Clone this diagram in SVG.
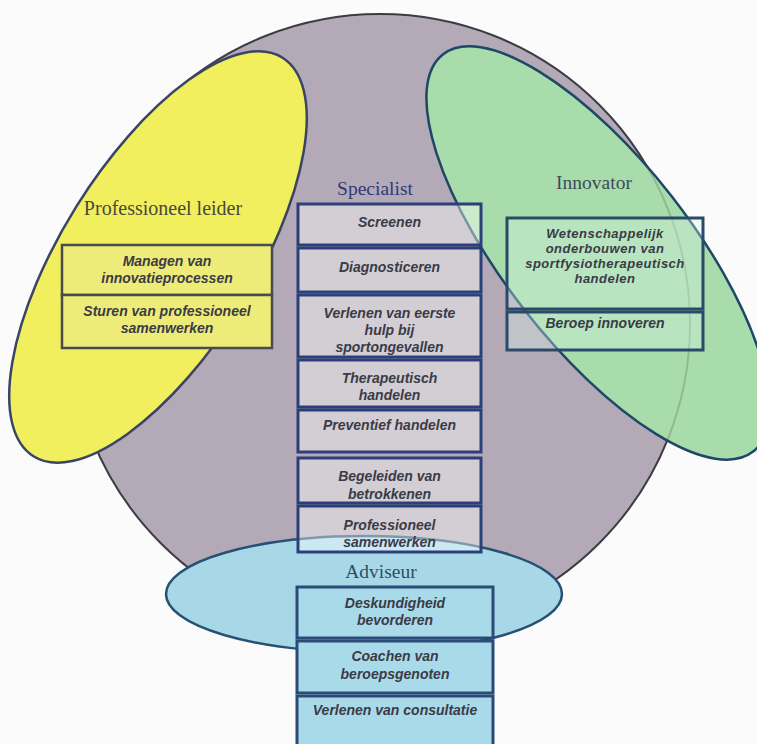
<svg xmlns="http://www.w3.org/2000/svg" width="757" height="744" viewBox="0 0 757 744">
<defs>
<style>
.title{font-family:"Liberation Serif","Times New Roman",serif;font-size:19.5px;text-anchor:middle}
.bt{font-family:"Liberation Sans",Arial,sans-serif;font-size:14px;font-weight:bold;font-style:italic;fill:#3a3b46;text-anchor:middle}
.bs{font-size:13px;letter-spacing:0.5px}
.sbox{fill:#ffffff;fill-opacity:0.42;stroke:#2b3f78;stroke-width:3}
.ybox{fill:#eeec78;stroke:#4a4a52;stroke-width:2.5}
.gbox{fill:#d8f4ea;fill-opacity:0.35;stroke:#2a4a6a;stroke-width:3}
.abox{fill:#a9dae9;stroke:#2a4a78;stroke-width:3}
</style>
<clipPath id="gclip"><ellipse cx="598" cy="253" rx="93" ry="252" transform="rotate(-38 598 253)"/></clipPath>
</defs>
<rect x="0" y="0" width="757" height="744" fill="#fbfbfb"/>
<g id="shapes">
<circle id="circle-specialist" cx="380" cy="324" r="310" fill="#b4a9b6" stroke="#3c3c44" stroke-width="2"/>
<ellipse id="ellipse-leider" cx="158" cy="257" rx="96" ry="235" transform="rotate(32 158 257)" fill="#f2ef5e" stroke="#3a4565" stroke-width="2.5"/>
<ellipse id="ellipse-innovator" cx="598" cy="253" rx="93" ry="252" transform="rotate(-38 598 253)" fill="#a8dcaa" stroke="#1f4766" stroke-width="2.5"/>
<circle cx="380" cy="324" r="310" fill="none" stroke="#3c3c44" stroke-width="2" stroke-opacity="0.22" clip-path="url(#gclip)"/>
<ellipse id="ellipse-adviseur" cx="364" cy="594" rx="198" ry="58" fill="#a8d8e8" stroke="#275075" stroke-width="2.5"/>
</g>
<g id="connectors"></g>
<g id="specialist">
<text class="title" x="375" y="195" fill="#2f3b78">Specialist</text>
<rect class="sbox" x="298" y="204" width="183" height="41"/>
<text class="bt" x="389.5" y="227">Screenen</text>
<rect class="sbox" x="298" y="248" width="183" height="44"/>
<text class="bt" x="389.5" y="272">Diagnosticeren</text>
<rect class="sbox" x="298" y="295" width="183" height="62"/>
<text class="bt" x="389.5" y="318">Verlenen van eerste</text>
<text class="bt" x="389.5" y="335">hulp bij</text>
<text class="bt" x="389.5" y="352">sportongevallen</text>
<rect class="sbox" x="298" y="360" width="183" height="47"/>
<text class="bt" x="389.5" y="383">Therapeutisch</text>
<text class="bt" x="389.5" y="400">handelen</text>
<rect class="sbox" x="298" y="410" width="183" height="42"/>
<text class="bt" x="389.5" y="430">Preventief handelen</text>
<rect class="sbox" x="298" y="458" width="183" height="45"/>
<text class="bt" x="389.5" y="481">Begeleiden van</text>
<text class="bt" x="389.5" y="499">betrokkenen</text>
<rect class="sbox" x="298" y="506" width="183" height="46"/>
<text class="bt" x="389.5" y="530">Professioneel</text>
<text class="bt" x="389.5" y="547">samenwerken</text>
</g>
<g id="leider">
<text class="title" x="163" y="215" style="font-size:20px" fill="#48483c">Professioneel leider</text>
<rect class="ybox" x="62" y="245" width="210" height="50"/>
<text class="bt" x="167" y="266">Managen van</text>
<text class="bt" x="167" y="283">innovatieprocessen</text>
<rect class="ybox" x="62" y="295" width="210" height="53"/>
<text class="bt" x="167" y="316">Sturen van professioneel</text>
<text class="bt" x="167" y="333">samenwerken</text>
</g>
<g id="innovator">
<text class="title" x="594" y="189" fill="#3d4b5a">Innovator</text>
<rect class="gbox" x="507" y="218" width="196" height="91"/>
<text class="bt bs" x="605" y="238">Wetenschappelijk</text>
<text class="bt bs" x="605" y="253">onderbouwen van</text>
<text class="bt bs" x="605" y="268">sportfysiotherapeutisch</text>
<text class="bt bs" x="605" y="283">handelen</text>
<rect class="gbox" x="507" y="312" width="196" height="38"/>
<text class="bt" x="605" y="328">Beroep innoveren</text>
</g>
<g id="adviseur">
<text class="title" x="381" y="578" fill="#2d4f62">Adviseur</text>
<rect class="abox" x="297" y="587" width="196" height="51"/>
<text class="bt" x="395" y="608">Deskundigheid</text>
<text class="bt" x="395" y="625">bevorderen</text>
<rect class="abox" x="297" y="641" width="196" height="52"/>
<text class="bt" x="395" y="661">Coachen van</text>
<text class="bt" x="395" y="679">beroepsgenoten</text>
<rect class="abox" x="297" y="696" width="196" height="56"/>
<text class="bt" x="395" y="715">Verlenen van consultatie</text>
</g>
</svg>
